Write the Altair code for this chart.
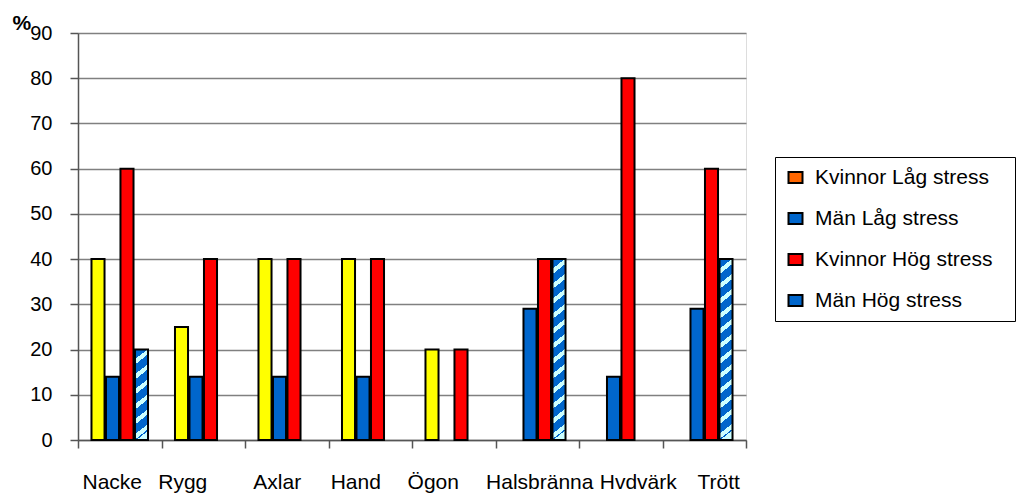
import altair as alt
import pandas as pd

categories = ["Nacke", "Rygg", "Axlar", "Hand", "Ögon", "Halsbränna", "Hvdvärk", "Trött"]
series = ["Kvinnor Låg stress", "Män Låg stress", "Kvinnor Hög stress", "Män Hög stress"]
kvinnor_lag = [40, 25, 40, 40, 20, None, None, None]
man_lag = [14, 14, 14, 14, None, 29, 14, 29]
kvinnor_hog = [60, 40, 40, 40, 20, 40, 80, 60]
man_hog = [20, None, None, None, None, 40, None, 40]
label_shift = [-8, -21, -10, -15, -21, 2, 17, 14]

rows = []
for s, vals in zip(series, [kvinnor_lag, man_lag, kvinnor_hog, man_hog]):
    for c, v in zip(categories, vals):
        if v is not None:
            rows.append({"c": c, "s": s, "v": v})
df = pd.DataFrame(rows)

FONT = "Liberation Sans"


def stripes(h, w=13.0, slope=0.8, period=15.0, frac=0.65):
    gx = slope * w / h
    norm = 1 + gx * gx
    p = period / h / norm
    stops = []
    k = 0.0
    while k < 1:
        a = k
        b = min(k + p * frac, 1)
        c = min(k + p, 1)
        stops += [{"offset": round(a, 4), "color": "#0066CC"}, {"offset": round(b, 4), "color": "#0066CC"},
                  {"offset": round(b, 4), "color": "#CCFFFF"}, {"offset": round(c, 4), "color": "#CCFFFF"}]
        k = k + p
    return {"gradient": "linear", "x1": 0, "y1": 0, "x2": round(gx, 4), "y2": 1, "stops": stops}


grad40 = stripes(40 * 407 / 90)
grad20 = stripes(20 * 407 / 90)

x_enc = alt.X("c:N", sort=categories, scale=alt.Scale(domain=categories, paddingInner=0, paddingOuter=0),
              axis=alt.Axis(title=None, labelAngle=0, tickBand="extent", tickSize=8, labelPadding=23,
                            labelFontSize=21, labelFont=FONT, labelColor="black", domainColor="#555555",
                            domainWidth=1.5, tickColor="#555555", tickWidth=1.5, grid=False,
                            labelOffset={"condition": [{"test": f"datum.value === '{c}'", "value": o}
                                                       for c, o in zip(categories, label_shift)],
                                         "value": 0}))
xo_enc = alt.XOffset("s:N", scale=alt.Scale(domain=series, paddingInner=0.1, paddingOuter=0.93))
y_enc = alt.Y("v:Q", scale=alt.Scale(domain=[0, 90], nice=False),
              axis=alt.Axis(values=list(range(0, 91, 10)), title="%", titleAngle=0, titleX=-66, titleY=-4,
                            titleAlign="left", titleBaseline="alphabetic", titleFontSize=21, titleFont=FONT,
                            titleFontWeight="bold", labelFontSize=20, labelFont=FONT, labelColor="black",
                            labelPadding=18, tickSize=8, tickColor="#555555", tickWidth=1.5,
                            domainColor="#555555", domainWidth=1.5, gridColor="#808080", gridWidth=1.5))

base = alt.Chart(df)

bars = base.transform_filter(alt.datum.s != "Män Hög stress").mark_bar(
    stroke="black", strokeWidth=2).encode(
    x=x_enc, xOffset=xo_enc, y=y_enc,
    color=alt.Color("s:N", scale=alt.Scale(domain=series, range=["#FFFF00", "#0066CC", "#FF0000", "#0066CC"]),
                    legend=None))

hatched = base.transform_filter(alt.datum.s == "Män Hög stress").mark_bar(
    stroke="black", strokeWidth=2).encode(
    x=x_enc, xOffset=xo_enc, y=y_enc,
    fill=alt.condition("datum.v < 30", alt.value(grad20), alt.value(grad40)))

legend_layer = base.transform_filter("false").mark_bar(stroke="black", strokeWidth=2).encode(
    x=x_enc, xOffset=xo_enc, y=y_enc,
    color=alt.Color("s:N", scale=alt.Scale(domain=series, range=["#FF6600", "#0066CC", "#FF0000", "#0066CC"]),
                    legend=alt.Legend(title=None, orient="none", legendX=697, legendY=124,
                                      symbolType="M-1,-0.8H1V0.8H-1Z", symbolSize=196,
                                      symbolStrokeColor="black", symbolStrokeWidth=2,
                                      labelFontSize=21, labelFont=FONT, labelColor="black", labelLimit=400,
                                      labelOffset=9, rowPadding=19, padding=10,
                                      strokeColor="black",
                                      labelExpr="datum.label + '\u00a0\u00a0\u200b'")))

chart = alt.layer(bars, hatched, legend_layer).resolve_scale(color="independent").properties(
    width=668, height=407,
    autosize=alt.AutoSizeParams(type="none"),
    padding={"left": 70, "top": 25, "right": 273, "bottom": 55},
).configure_view(stroke="#808080", strokeWidth=1.5).configure(background="white")

chart.save("out.html", embed_options={"renderer": "svg", "actions": False})
